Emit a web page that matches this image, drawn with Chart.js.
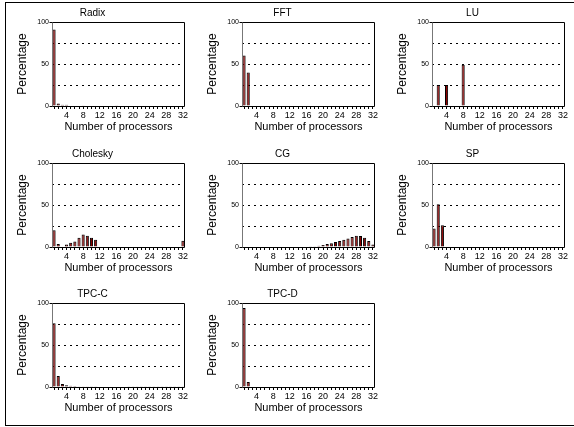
<!DOCTYPE html>
<html lang="en">
  <head>
    <meta charset="UTF-8" />
    <title>Processor distribution</title>
    <script src="https://cdn.jsdelivr.net/npm/chart.js"></script>
    <style>
      body { margin: 0; background: #fff; }
      #frame {
        position: absolute; left: 5px; top: 2px;
        width: 570px; height: 422px; border: 1px solid #000;
      }
      .panel { position: absolute; }
    </style>
  </head>
  <body>
    <div id="frame"></div>

    <script>
      // x categories: number of processors
      const procs = [1, 2, 3, 4, 5, 6, 7, 8, 9, 10, 11, 12, 13, 14, 15, 16,
        17, 18, 19, 20, 21, 22, 23, 24, 25, 26, 27, 28, 29, 30, 31, 32];
      const xTickLabels = [4, 8, 12, 16, 20, 24, 28, 32];
      const yTickLabels = [0, 50, 100];
      const dottedLevels = [25, 50, 75];

      // percentage per processor count, one array per benchmark
      const radix = [91, 3, 1.5, 1.5, 0, 0, 0, 1, 0, 0, 0, 0, 0, 0, 0, 1,
        0, 0, 0, 0, 0, 0, 0, 0, 0, 0, 0, 0, 0, 0, 0, 0];
      const fft = [60, 40, 0, 0, 0, 0, 0, 0, 0, 0, 0, 0, 0, 0, 0, 0,
        0, 0, 0, 0, 0, 0, 0, 0, 0, 0, 0, 0, 0, 0, 0, 0];
      const lu = [0, 25, 0, 25, 0, 0, 0, 49, 0, 0, 0, 0, 0, 0, 0, 0,
        0, 0, 0, 0, 0, 0, 0, 0, 0, 0, 0, 0, 0, 0, 0, 0];
      const cholesky = [20, 3.5, 0, 3, 5, 6.5, 11, 15, 13.5, 11, 8.5, 0, 0, 0, 0, 0,
        0, 0, 0, 0, 0, 0, 0, 0, 0, 0, 0, 0, 0, 0, 0, 7.5];
      const cg = [0, 0, 0, 0, 0, 0, 0, 0, 0, 0, 0, 0, 0, 0, 0, 0,
        0.3, 0.8, 1.5, 2.5, 3.5, 4.5, 6, 7, 8.5, 10, 12, 13.5, 13, 11, 7, 3];
      const sp = [22, 51, 26, 0, 0, 0, 0, 0, 0, 0, 0, 0, 0, 0, 0, 0,
        0, 0, 0, 0, 0, 0, 0, 0, 0, 0, 0, 0, 0, 0, 0, 0];
      const tpcC = [76, 13, 3.5, 2, 1.5, 1.2, 1, 1, 0.9, 0.8, 0.8, 0.7, 0.7, 0.6, 0.6, 0.5,
        0.5, 0.5, 0.4, 0.4, 0.4, 0.4, 0.3, 0.3, 0.3, 0.3, 0.3, 0.3, 0.3, 0.3, 0.3, 0.3];
      const tpcD = [94, 6, 0, 0, 0, 0, 0, 0, 0, 0, 0, 0, 0, 0, 0, 0,
        0, 0, 0, 0, 0, 0, 0, 0, 0, 0, 0, 0, 0, 0, 0, 0];

      const panels = [
        ["Radix", radix], ["FFT", fft], ["LU", lu],
        ["Cholesky", cholesky], ["CG", cg], ["SP", sp],
        ["TPC-C", tpcC], ["TPC-D", tpcD],
      ];

      const font = "'Liberation Sans', Arial, sans-serif";
      Chart.defaults.color = "#000";
      Chart.defaults.font.family = font;

      // box round the plot area, top/bottom lines stick out a little on the left
      const plotBox = {
        id: "plotBox",
        afterDatasetsDraw(chart) {
          const { ctx, chartArea: a } = chart;
          const l = Math.round(a.left) + 0.5, r = Math.round(a.right) - 0.5;
          const t = Math.round(a.top) + 0.5, b = Math.round(a.bottom) + 0.5;
          ctx.save();
          ctx.lineWidth = 1;
          ctx.strokeStyle = "#000";
          ctx.beginPath();
          ctx.moveTo(l - 3, t);
          ctx.lineTo(r, t);
          ctx.lineTo(r, b);
          ctx.lineTo(l - 3, b);
          ctx.stroke();
          ctx.strokeStyle = "#777";
          ctx.beginPath();
          ctx.moveTo(l, t);
          ctx.lineTo(l, b);
          ctx.stroke();
          ctx.restore();
        },
      };

      const rowTops = [0, 141, 281];

      panels.forEach(([name, values], i) => {
        const holder = document.createElement("div");
        holder.className = "panel";
        holder.style.left = (i % 3) * 190 + "px";
        holder.style.top = rowTops[Math.floor(i / 3)] + "px";
        const canvas = document.createElement("canvas");
        canvas.width = 190;
        canvas.height = 140;
        holder.appendChild(canvas);
        document.body.appendChild(holder);

        new Chart(canvas, {
          type: "bar",
          data: {
            labels: procs,
            datasets: [
              {
                data: values,
                backgroundColor: "#8b0000",
                borderColor: "#000",
                borderWidth: 1,
                barPercentage: 0.75,
                categoryPercentage: 1,
              },
            ],
          },
          plugins: [plotBox],
          options: {
            responsive: false,
            animation: false,
            layout: { padding: { left: 0, right: 5, top: 0, bottom: 0 } },
            plugins: {
              legend: { display: false },
              tooltip: { enabled: false },
              title: {
                display: true,
                text: name,
                font: { size: 10, weight: "normal" },
                padding: { top: 7, bottom: 3 },
              },
            },
            scales: {
              x: {
                afterFit: (s) => { s.height = 34; },
                border: { display: false },
                grid: {
                  offset: false,
                  drawOnChartArea: false,
                  drawTicks: true,
                  tickLength: 3,
                  color: "#000",
                },
                ticks: {
                  autoSkip: false,
                  maxRotation: 0,
                  padding: 1,
                  font: { size: 9 },
                  callback: (v, idx) =>
                    xTickLabels.includes(procs[idx]) ? String(procs[idx]) : "",
                },
                title: {
                  display: true,
                  text: "Number of processors",
                  font: { size: 11 },
                  padding: { top: 0, bottom: 6 },
                },
              },
              y: {
                min: 0,
                max: 100,
                afterFit: (s) => { s.width = 52; },
                border: { display: false, dash: [2, 4] },
                grid: {
                  drawTicks: false,
                  color: (c) =>
                    dottedLevels.includes(c.tick.value) ? "#000" : "rgba(0,0,0,0)",
                },
                ticks: {
                  stepSize: 25,
                  padding: 3,
                  font: { size: 7 },
                  callback: (v) => (yTickLabels.includes(v) ? String(v) : ""),
                },
                title: {
                  display: true,
                  text: "Percentage",
                  font: { size: 12 },
                  padding: { top: 15, bottom: 0 },
                },
              },
            },
          },
        });
      });
    </script>
  </body>
</html>
